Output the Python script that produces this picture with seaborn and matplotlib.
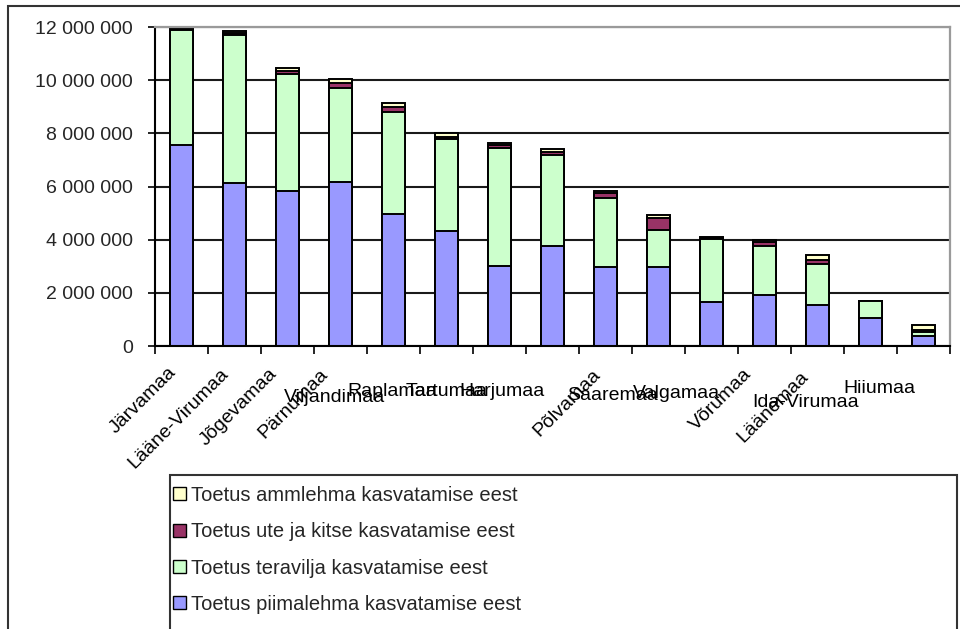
import numpy as np
import pandas as pd
import matplotlib
matplotlib.use("Agg")
import matplotlib.pyplot as plt
import seaborn as sns
from matplotlib.ticker import FuncFormatter, FixedLocator
from matplotlib.patches import Rectangle, Patch

# ---------------- data ----------------
maakonnad = ["Järvamaa", "Lääne-Virumaa", "Jõgevamaa", "Pärnumaa", "Viljandimaa",
             "Raplamaa", "Tartumaa", "Harjumaa", "Põlvamaa", "Saaremaa",
             "Valgamaa", "Võrumaa", "Läänemaa", "Ida-Virumaa", "Hiiumaa"]
piimalehm = [7560000, 6130000, 5820000, 6180000, 4950000, 4340000, 3020000, 3770000,
             2970000, 2970000, 1670000, 1920000, 1540000, 1060000, 380000]
teravili = [4320000, 5560000, 4430000, 3530000, 3860000, 3430000, 4440000, 3400000,
            2610000, 1400000, 2360000, 1850000, 1540000, 630000, 130000]
ute_kits = [50000, 80000, 100000, 190000, 190000, 80000, 90000, 130000,
            190000, 430000, 30000, 150000, 140000, 0, 100000]
ammlehm = [50000, 90000, 90000, 150000, 150000, 150000, 100000, 120000,
           60000, 120000, 40000, 80000, 200000, 0, 180000]
series_names = ["Toetus ammlehma kasvatamise eest",
                "Toetus ute ja kitse kasvatamise eest",
                "Toetus teravilja kasvatamise eest",
                "Toetus piimalehma kasvatamise eest"]
y_ticks = [0, 2000000, 4000000, 6000000, 8000000, 10000000, 12000000]

# ---------------- style ----------------
sns.set_theme(style="white")
plt.rcParams["font.family"] = ["Liberation Sans", "DejaVu Sans"]
FS = 14
FS_LEG = 14.5
col_amm = "#FFFFCC"
col_ute = "#993366"
col_ter = "#CCFFCC"
col_pii = "#9999FF"

df = pd.DataFrame({"maakond": maakonnad, "piim": piimalehm, "tera": teravili,
                   "ute": ute_kits, "amm": ammlehm})
df["l4"] = df["piim"] + df["tera"] + df["ute"] + df["amm"]
df["l3"] = df["piim"] + df["tera"] + df["ute"]
df["l2"] = df["piim"] + df["tera"]
df["l1"] = df["piim"]

W, H = 960, 629
fig = plt.figure(figsize=(W / 100, H / 100), dpi=100)
ax = fig.add_axes([155 / W, 1 - 346 / H, (950 - 155) / W, (346 - 27) / H])

for col, c in [("l4", col_amm), ("l3", col_ute), ("l2", col_ter), ("l1", col_pii)]:
    sns.barplot(data=df, x="maakond", y=col, order=maakonnad, color=c,
                edgecolor="black", linewidth=1.4, width=0.42, errorbar=None,
                saturation=1, ax=ax)

ax.set_xlim(-0.5, len(maakonnad) - 0.5)
ax.set_ylim(0, 12000000)
ax.set_xlabel("")
ax.set_ylabel("")
ax.set_axisbelow(True)

ax.yaxis.set_major_locator(FixedLocator(y_ticks))
ax.yaxis.set_major_formatter(FuncFormatter(lambda v, p: f"{int(v):,}".replace(",", " ")))
ax.grid(axis="y", color="#1a1a1a", linewidth=1.5)
ax.grid(axis="x", visible=False)
ax.tick_params(axis="y", direction="out", length=5, width=1.2, color="black",
               labelsize=FS, pad=11, left=True)

# x ticks at category boundaries, labels drawn manually
ax.set_xticks(np.arange(-0.5, len(maakonnad), 1.0))
ax.set_xticklabels([])
ax.tick_params(axis="x", direction="out", length=6, width=1.2, color="black", bottom=True)

for s in ["left", "bottom"]:
    ax.spines[s].set_color("black")
    ax.spines[s].set_linewidth(1.5)
for s in ["top", "right"]:
    ax.spines[s].set_color("#9a9a9a")
    ax.spines[s].set_linewidth(1.6)

# label layout (as in the reference, some labels rotated, some flat): (rotation, dx px, dy px)
label_layout = [(45, -8, -24), (45, -9, -25), (45, -13, -25), (45, -15, -26),
                (0, -110, -51), (0, -99, -45), (0, -94, -45), (0, -93, -45),
                (45, -8, -26), (0, -91, -49), (0, -79, -47), (45, -15, -26),
                (45, -12, -28), (0, -118, -56), (0, -80, -42)]
for i, (name, (rot, dx, dy)) in enumerate(zip(maakonnad, label_layout)):
    if rot:
        ax.annotate(name, xy=(i, 0), xycoords=("data", "axes fraction"),
                    xytext=(dx, dy), textcoords="offset pixels",
                    rotation=rot, rotation_mode="anchor", ha="right", va="center",
                    fontsize=FS, color="black", annotation_clip=False)
    else:
        ax.annotate(name, xy=(i, 0), xycoords=("data", "axes fraction"),
                    xytext=(dx, dy), textcoords="offset pixels",
                    ha="left", va="center", fontsize=FS, color="black",
                    annotation_clip=False)

# outer chart frame (top and left edges visible)
fig.add_artist(Rectangle((8 / W, -0.05), 1.2, 1 - 6 / H + 0.05, transform=fig.transFigure,
                         fill=False, edgecolor="#333333", linewidth=1.5))

# legend box
fig.add_artist(Rectangle((170 / W, -0.05), (957 - 170) / W, 1 - 475 / H + 0.05,
                         transform=fig.transFigure, fill=False,
                         edgecolor="#333333", linewidth=1.5))
handles = [Patch(facecolor=c, edgecolor="black", linewidth=1.0)
           for c in [col_amm, col_ute, col_ter, col_pii]]
fig.legend(handles, series_names, loc="upper left",
           bbox_to_anchor=(171 / W, 1 - 484 / H), frameon=False,
           fontsize=FS_LEG, handlelength=0.62, handleheight=0.62, handletextpad=0.25,
           labelspacing=0.86, borderpad=0.1, borderaxespad=0)

fig.savefig("out.png", dpi=100, facecolor="white")
